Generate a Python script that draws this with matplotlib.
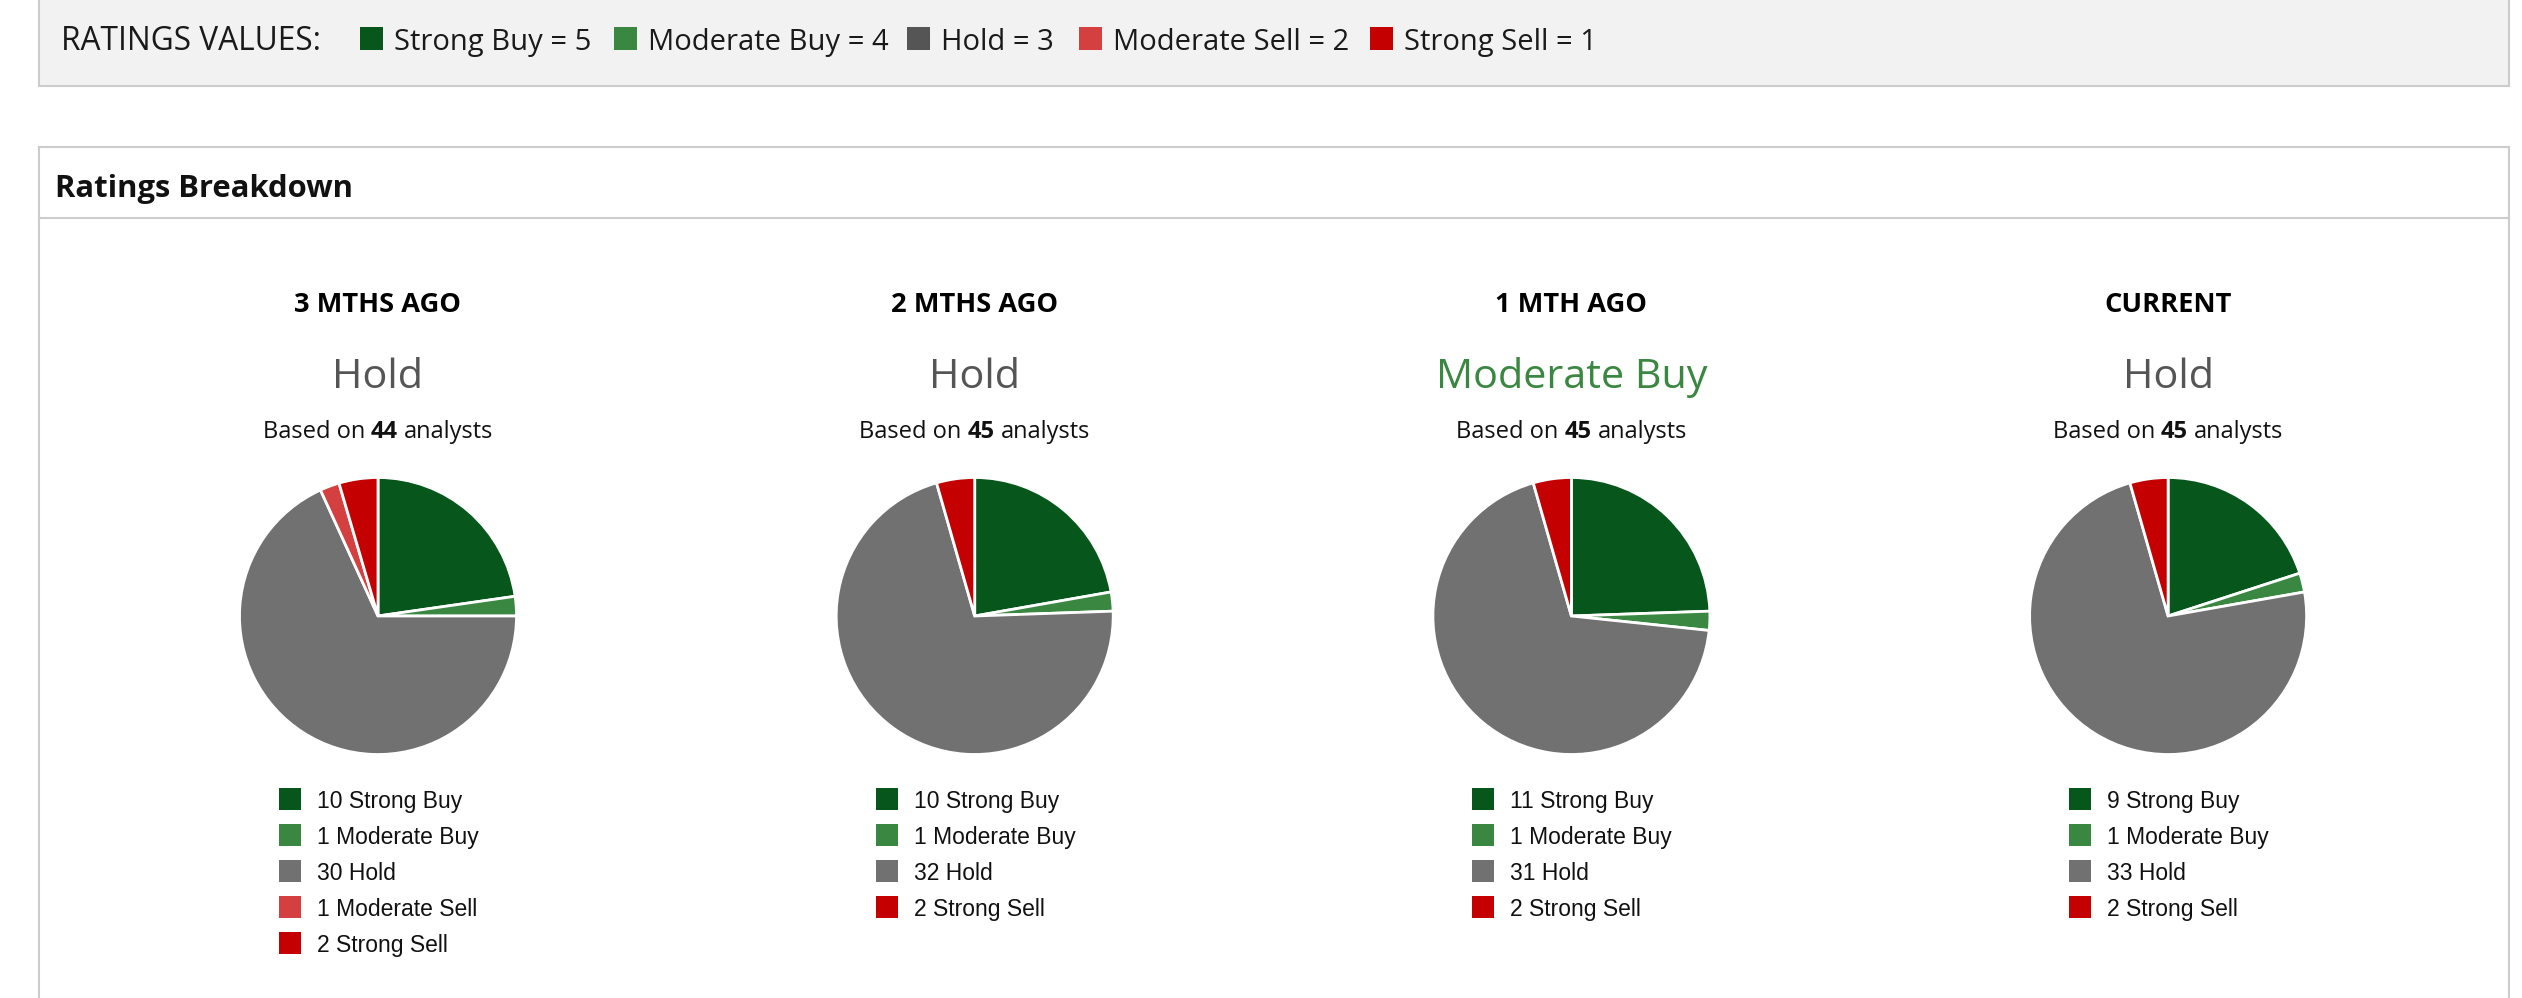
import matplotlib
matplotlib.use('Agg')
import matplotlib.pyplot as plt
from matplotlib.patches import Rectangle

W, H = 2522, 998

# ratings legend
rating_names = ['Strong Buy', 'Moderate Buy', 'Hold', 'Moderate Sell', 'Strong Sell']
rating_values = [5, 4, 3, 2, 1]
key_colors = ['#07571c', '#3a8741', '#555555', '#d43f3f', '#c40000']
pie_colors = ['#07571c', '#3a8741', '#717171', '#d43f3f', '#c40000']

# breakdown per period
periods = ['3 MTHS AGO', '2 MTHS AGO', '1 MTH AGO', 'CURRENT']
consensus = ['Hold', 'Hold', 'Moderate Buy', 'Hold']
analysts = [44, 45, 45, 45]
strong_buy = [10, 10, 11, 9]
moderate_buy = [1, 1, 1, 1]
hold = [30, 32, 31, 33]
moderate_sell = [1, 0, 0, 0]
strong_sell = [2, 2, 2, 2]

consensus_colors = {'Hold': '#555555', 'Moderate Buy': '#3a8741'}

HEAD_FONT = ['Open Sans', 'DejaVu Sans']
LEG_FONT = ['Liberation Sans', 'DejaVu Sans']
BORDER = '#cccccc'


def Y(y):
    # pixel rows from the top -> data coords
    return H - y


fig = plt.figure(figsize=(W / 100, H / 100), dpi=100)
ax = fig.add_axes([0, 0, 1, 1])
renderer = fig.canvas.get_renderer()

# --- boxes ---
ax.add_patch(Rectangle((39, Y(86)), 2470, 92, facecolor='#f2f2f2',
                       edgecolor=BORDER, linewidth=1.5, zorder=0))
ax.add_patch(Rectangle((39, Y(1020)), 2470, 1020 - 147, facecolor='white',
                       edgecolor=BORDER, linewidth=1.5, zorder=0))
ax.plot([39, 2509], [Y(218), Y(218)], color=BORDER, linewidth=1.5, zorder=1)

# --- ratings values key ---
ax.text(61, Y(50), 'RATINGS VALUES:', fontsize=22.8, family=HEAD_FONT,
        color='#1a1a1a', va='baseline', ha='left')
key_x = [360, 614, 907, 1079, 1370]
for kx, name, val, col in zip(key_x, rating_names, rating_values, key_colors):
    ax.add_patch(Rectangle((kx, Y(50)), 23, 23, facecolor=col, edgecolor='none'))
    ax.text(kx + 34, Y(50), f'{name} = {val}', fontsize=21, family=HEAD_FONT,
            color='#1a1a1a', va='baseline', ha='left')

ax.text(55, Y(197), 'Ratings Breakdown', fontsize=22.3, family=HEAD_FONT,
        fontweight='bold', color='#111111', va='baseline', ha='left')


def width_of(s, size, weight):
    t = ax.text(0, 0, s, fontsize=size, family=HEAD_FONT, fontweight=weight)
    w = t.get_window_extent(renderer).width
    t.remove()
    return w


def centered_parts(cx, y, parts, size, color):
    space = width_of('a a', size, 'normal') - width_of('aa', size, 'normal')
    widths = [width_of(s, size, w) for s, w in parts]
    total = sum(widths) + space * (len(parts) - 1)
    x = cx - total / 2
    for (s, w), wd in zip(parts, widths):
        ax.text(x, Y(y), s, fontsize=size, family=HEAD_FONT, fontweight=w,
                color=color, va='baseline', ha='left')
        x += wd + space


# --- pies ---
for i, period in enumerate(periods):
    cx = 378 + i * 596.7
    counts = [strong_buy[i], moderate_buy[i], hold[i], moderate_sell[i], strong_sell[i]]

    ax.text(cx, Y(312), period, fontsize=19.6, family=HEAD_FONT, fontweight='bold',
            color='#000000', ha='center', va='baseline')
    ax.text(cx, Y(388), consensus[i], fontsize=29.8, family=HEAD_FONT,
            color=consensus_colors[consensus[i]], ha='center', va='baseline')
    centered_parts(cx, 438, [('Based on', 'normal'), (str(analysts[i]), 'bold'),
                             ('analysts', 'normal')], 17, '#111111')

    vals = [c for c in counts if c > 0]
    cols = [pie_colors[k] for k, c in enumerate(counts) if c > 0]
    ax.pie(vals, colors=cols, startangle=90, counterclock=False,
           center=(cx, Y(616)), radius=138.5, frame=True,
           wedgeprops=dict(edgecolor='white', linewidth=2.0))

    row = 0
    for k, c in enumerate(counts):
        if c == 0:
            continue
        yc = 799 + 36 * row
        ax.add_patch(Rectangle((cx - 99, Y(yc + 11)), 22, 22,
                               facecolor=pie_colors[k], edgecolor='none'))
        ax.text(cx - 61, Y(yc + 9), f'{c} {rating_names[k]}', fontsize=16.5,
                family=LEG_FONT, color='#111111', ha='left', va='baseline')
        row += 1

ax.set_xlim(0, W)
ax.set_ylim(0, H)
ax.axis('off')
fig.savefig('out.png', dpi=100, facecolor='white')
